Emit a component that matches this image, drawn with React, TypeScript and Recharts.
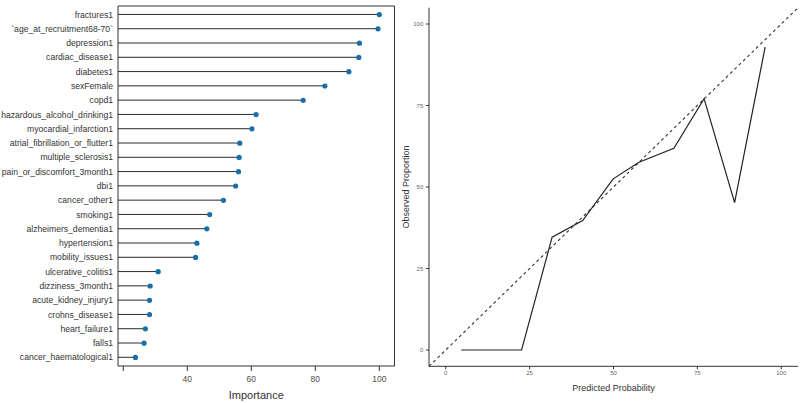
import {
  ComposedChart,
  Bar,
  Scatter,
  XAxis,
  YAxis,
  ReferenceArea,
  LineChart,
  Line,
} from "recharts";

// variable importance, top to bottom
const features = [
  "fractures1",
  "`age_at_recruitment68-70`",
  "depression1",
  "cardiac_disease1",
  "diabetes1",
  "sexFemale",
  "copd1",
  "hazardous_alcohol_drinking1",
  "myocardial_infarction1",
  "atrial_fibrillation_or_flutter1",
  "multiple_sclerosis1",
  "pain_or_discomfort_3month1",
  "dbi1",
  "cancer_other1",
  "smoking1",
  "alzheimers_dementia1",
  "hypertension1",
  "mobility_issues1",
  "ulcerative_colitis1",
  "dizziness_3month1",
  "acute_kidney_injury1",
  "crohns_disease1",
  "heart_failure1",
  "falls1",
  "cancer_haematological1",
];
const importance = [
  100, 99.6, 93.8, 93.6, 90.5, 83, 76.2, 61.5, 60.2, 56.4, 56.2, 56, 55.1,
  51.3, 47, 46.1, 43, 42.6, 30.9, 28.4, 28.2, 28.2, 26.9, 26.5, 23.8,
];
const importanceDomain = [18.35, 104.75];
const importanceTicks = [20, 40, 60, 80, 100];
const importanceTickLabels = ["", "40", "60", "80", "100"];

// calibration: binned predicted vs observed (%)
const predicted = [4.6, 22.6, 31.7, 40.8, 49.9, 57.6, 68.0, 77.0, 86.1, 95.2];
const observed = [0, 0, 34.6, 39.7, 52.5, 57.6, 61.9, 77.1, 45.2, 92.9];
const identityLine = [-5, 105];
const calibrationTicks = [0, 25, 50, 75, 100];

const FONT = '"Liberation Sans", Arial, Helvetica, sans-serif';
const AXIS = "#333333";
const DOT = "#1b6fa8";

// rows are placed on a numeric axis (1 = top) with a little discrete-style padding
const importanceData = features.map((feature, i) => ({
  feature,
  rank: i + 1,
  importance: importance[i],
}));
const rowTicks = importanceData.map((d) => d.rank);
const rowDomain = [0.4, features.length + 0.6];

const calibrationData = predicted.map((p, i) => ({ predicted: p, observed: observed[i] }));
const diagonalData = identityLine.map((v) => ({ predicted: v, observed: v }));

function Stick(props: any) {
  const { x, y, width, height } = props;
  const cy = y + height / 2;
  return <line x1={x} y1={cy} x2={x + width} y2={cy} stroke="#2b2b2b" strokeWidth={1} />;
}

function Dot(props: any) {
  const { cx, cy } = props;
  return <circle cx={cx} cy={cy} r={2.6} fill={DOT} />;
}

function RotatedLabel(props: any) {
  const { viewBox, value } = props;
  const cx = viewBox.x + 5.5;
  const cy = viewBox.y + viewBox.height / 2;
  return (
    <text
      x={cx}
      y={cy}
      transform={`rotate(-90, ${cx}, ${cy})`}
      textAnchor="middle"
      dominantBaseline="central"
      fontSize={9}
      fill="#333"
      fontFamily={FONT}
    >
      {value}
    </text>
  );
}

function ImportancePanel() {
  return (
    <ComposedChart
      width={400}
      height={403}
      data={importanceData}
      layout="vertical"
      margin={{ top: 6, right: 5.5, bottom: 0, left: 0 }}
      style={{ fontFamily: FONT }}
    >
      <XAxis
        xAxisId="top"
        orientation="top"
        type="number"
        dataKey="importance"
        domain={importanceDomain}
        allowDataOverflow
        ticks={importanceTicks}
        tick={false}
        height={0}
        tickSize={6}
        axisLine={false}
        tickLine={{ stroke: AXIS }}
      />
      <XAxis
        xAxisId="bottom"
        orientation="bottom"
        type="number"
        dataKey="importance"
        domain={importanceDomain}
        allowDataOverflow
        ticks={importanceTicks}
        tickFormatter={(v: number) => importanceTickLabels[importanceTicks.indexOf(v)]}
        height={37}
        tickSize={5}
        tickMargin={5}
        axisLine={false}
        tickLine={{ stroke: AXIS }}
        tick={{ fontSize: 8.5, fill: "#4d4d4d" }}
        label={{
          value: "Importance",
          position: "insideBottom",
          offset: 4,
          fontSize: 11,
          fill: "#333",
        }}
      />
      <YAxis
        yAxisId="rows"
        type="number"
        dataKey="rank"
        domain={rowDomain}
        ticks={rowTicks}
        interval={0}
        tickFormatter={(v: number) => features[v - 1]}
        width={118}
        tickLine={false}
        tickSize={0}
        tickMargin={5}
        axisLine={false}
        tick={{ fontSize: 8.6, fill: "#333" }}
      />
      <ReferenceArea
        xAxisId="bottom"
        yAxisId="rows"
        x1={importanceDomain[0]}
        x2={importanceDomain[1]}
        y1={rowDomain[0]}
        y2={rowDomain[1]}
        fill="none"
        stroke={AXIS}
        strokeWidth={1}
        fillOpacity={0}
        ifOverflow="visible"
      />
      <Bar
        xAxisId="bottom"
        yAxisId="rows"
        dataKey="importance"
        barSize={6}
        shape={Stick}
        isAnimationActive={false}
      />
      <Scatter
        xAxisId="top"
        yAxisId="rows"
        dataKey="importance"
        shape={Dot}
        isAnimationActive={false}
      />
    </ComposedChart>
  );
}

function CalibrationPanel() {
  return (
    <LineChart
      width={400}
      height={403}
      margin={{ top: 7.7, right: 2, bottom: 0, left: 0 }}
      style={{ fontFamily: FONT }}
    >
      <XAxis
        type="number"
        dataKey="predicted"
        domain={[-5, 105]}
        ticks={calibrationTicks}
        height={36.7}
        tickSize={3}
        tickMargin={1.7}
        axisLine={{ stroke: AXIS }}
        tickLine={{ stroke: AXIS }}
        tick={{ fontSize: 6, fill: "#666" }}
        label={{
          value: "Predicted Probability",
          position: "insideBottom",
          offset: 12,
          fontSize: 9,
          fill: "#333",
        }}
      />
      <YAxis
        type="number"
        dataKey="observed"
        domain={[-5, 105]}
        ticks={calibrationTicks}
        width={29}
        tickSize={3}
        tickMargin={2.7}
        axisLine={{ stroke: AXIS }}
        tickLine={{ stroke: AXIS }}
        tick={{ fontSize: 6, fill: "#666" }}
        label={<RotatedLabel value="Observed Proportion" />}
      />
      <Line
        data={diagonalData}
        dataKey="observed"
        stroke="#333"
        strokeWidth={1.1}
        strokeDasharray="3 3"
        dot={false}
        isAnimationActive={false}
      />
      <Line
        data={calibrationData}
        dataKey="observed"
        stroke="#222"
        strokeWidth={1.2}
        dot={false}
        isAnimationActive={false}
      />
    </LineChart>
  );
}

export default function App() {
  return (
    <div style={{ position: "absolute", left: 0, top: 0, width: 800, height: 403, background: "#fff" }}>
      <div style={{ position: "absolute", left: 0, top: 0 }}>
        <ImportancePanel />
      </div>
      <div style={{ position: "absolute", left: 400, top: 0 }}>
        <CalibrationPanel />
      </div>
    </div>
  );
}
